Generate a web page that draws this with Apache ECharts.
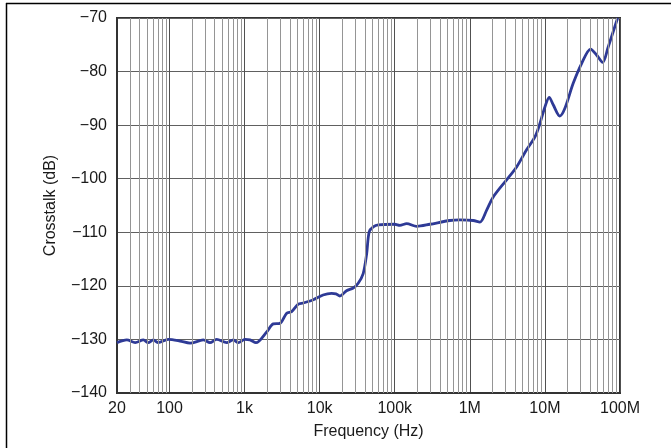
<!DOCTYPE html>
<html>
<head>
<meta charset="utf-8">
<script src="https://cdn.jsdelivr.net/npm/echarts@6/dist/echarts.min.js"></script>
<style>
  html, body { margin: 0; padding: 0; background: #fff; }
  #chart { width: 671px; height: 448px; }
</style>
</head>
<body>
<div id="chart"></div>
<script>
// Frequency (Hz) and crosstalk (dB)
const freqHz = [
  20, 27, 35, 45, 52, 61, 71, 96, 138, 188, 282, 346, 425, 578, 708, 825, 1012, 1180, 1420,
  1970, 2410, 2960, 3640, 4240, 5190, 6050, 8220, 11100, 14400, 16500, 18600, 22800, 28000,
  32600, 38000, 42200, 45700, 51700, 60300, 100000, 117000, 144000, 196000, 294000, 543000,
  738000, 1110000, 1360000, 1670000, 2050000, 3090000, 4200000, 5700000, 7370000, 8580000,
  10000000, 11400000, 12900000, 15800000, 18400000, 23800000, 30800000, 40600000, 48800000,
  58600000, 69600000, 93000000
];
const crosstalkDb = [
  -130.6, -130.1, -130.6, -130.1, -130.6, -130.1, -130.6, -130.0, -130.3, -130.7, -130.1, -130.6, -130.0, -130.6, -130.1, -130.6, -130.0, -130.1, -130.6,
  -128.6, -127.1, -127.0, -125.1, -124.8, -123.4, -123.2, -122.6, -121.7, -121.4, -121.5, -121.9, -120.9, -120.4,
  -119.5, -117.7, -114.1, -109.9, -109.0, -108.6, -108.5, -108.7, -108.4, -108.9, -108.5, -107.8,
  -107.7, -107.8, -108.1, -105.9, -103.4, -100.2, -97.8, -94.6, -92.2, -89.7,
  -86.6, -84.8, -86.2, -88.3, -86.9, -82.2, -78.5, -75.8, -76.9,
  -78.3, -75.4, -70.0
];
// Axis ticks
const xTickValues = [20, 100, 1e3, 1e4, 1e5, 1e6, 1e7, 1e8];
const xTickLabels = ['20', '100', '1k', '10k', '100k', '1M', '10M', '100M'];
const yMin = -140, yMax = -70, yStep = 10;

// minor (2..9 per decade) vertical grid positions
const minorGrid = [];
for (let d = 10; d < 1e8; d *= 10) {
  for (let k = 2; k <= 9; k++) {
    const v = k * d;
    if (v > 20 && v < 1e8) minorGrid.push(v);
  }
}

const seriesData = freqHz.map((f, i) => [f, crosstalkDb[i]]);
const FONT = 'Liberation Sans';

const chart = echarts.init(document.getElementById('chart'), null, { renderer: 'canvas' });
chart.setOption({
  animation: false,
  backgroundColor: '#fff',
  grid: {
    left: 117, right: 51, top: 18, bottom: 55,
    show: true, borderColor: '#333', borderWidth: 2, backgroundColor: 'transparent'
  },
  xAxis: {
    type: 'log', logBase: 10, min: 20, max: 1e8,
    axisLine: { show: true, lineStyle: { color: '#333', width: 2 } },
    axisTick: { show: false },
    splitLine: { show: true, lineStyle: { color: '#505050', width: 1 } },
    axisLabel: {
      color: '#1a1a1a', fontFamily: FONT, fontSize: 16, margin: 8,
      formatter: function (v) {
        const lv = Math.log10(v);
        for (let i = 0; i < xTickValues.length; i++) {
          if (Math.abs(lv - Math.log10(xTickValues[i])) < 0.01) return xTickLabels[i];
        }
        return '';
      }
    },
    name: 'Frequency (Hz)', nameLocation: 'middle', nameGap: 31,
    nameTextStyle: { color: '#1a1a1a', fontFamily: FONT, fontSize: 16 }
  },
  yAxis: {
    type: 'value', min: yMin, max: yMax, interval: yStep,
    axisLine: { show: true, lineStyle: { color: '#333', width: 2 } },
    axisTick: { show: false },
    splitLine: { show: true, lineStyle: { color: '#606060', width: 1 } },
    axisLabel: {
      color: '#1a1a1a', fontFamily: FONT, fontSize: 16, margin: 10,
      formatter: v => (v < 0 ? '\u2212' + Math.abs(v) : String(v))
    },
    name: 'Crosstalk (dB)', nameLocation: 'middle', nameGap: 58, nameRotate: 90,
    nameTextStyle: { color: '#1a1a1a', fontFamily: FONT, fontSize: 16 }
  },
  series: [
    {
      type: 'line', z: 1, data: [], silent: true,
      markLine: {
        silent: true, symbol: ['none', 'none'], animation: false,
        label: { show: false },
        lineStyle: { color: '#959595', width: 1, type: 'solid' },
        data: minorGrid.map(v => ({ xAxis: v }))
      }
    },
    {
      type: 'line', z: 3, data: seriesData,
      showSymbol: false, symbol: 'none', smooth: 0.3,
      lineStyle: { color: '#2e3a96', width: 2.8 }
    }
  ],
  graphic: [
    { type: 'line', shape: { x1: 6, y1: 3.5, x2: 671, y2: 3.5 }, style: { stroke: '#000', lineWidth: 1.5 } },
    { type: 'line', shape: { x1: 6.5, y1: 3, x2: 6.5, y2: 448 }, style: { stroke: '#000', lineWidth: 1.5 } }
  ]
});
</script>
</body>
</html>
